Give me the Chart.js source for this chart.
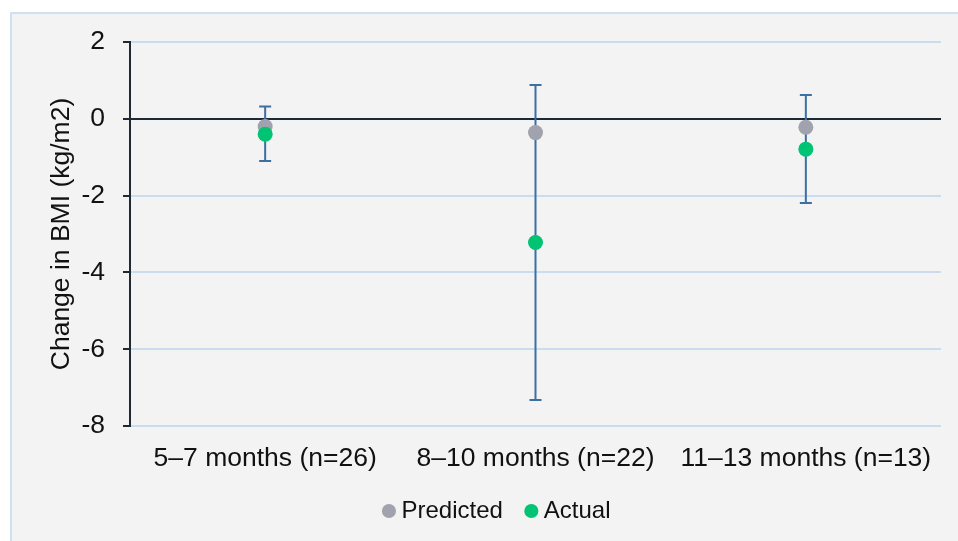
<!DOCTYPE html>
<html>
<head>
<meta charset="utf-8">
<script src="https://cdn.jsdelivr.net/npm/chart.js@4/dist/chart.umd.min.js"></script>
<style>
  html, body { margin: 0; padding: 0; background: #ffffff; overflow: hidden; }
  #panel {
    position: absolute; left: 10px; top: 12px; width: 1000px; height: 600px;
    background: #f3f3f3; border-top: 2px solid #cfe0f1; border-left: 2px solid #cfe0f1;
  }
  #wrap { position: absolute; left: 0; top: 0; width: 958px; height: 541px; }
</style>
</head>
<body>
<div id="panel"></div>
<div id="wrap"><canvas id="c" width="958" height="541"></canvas></div>
<script>
// Follow-up windows and BMI change (kg/m2)
const categories = ['5–7 months (n=26)', '8–10 months (n=22)', '11–13 months (n=13)'];
const predicted = [-0.2, -0.36, -0.22];
const actual = [-0.4, -3.22, -0.79];
// Interval bounds around the actual change
const actualLow = [-1.1, -7.32, -2.19];
const actualHigh = [0.32, 0.88, 0.62];
const yTicks = [-8, -6, -4, -2, 0, 2];

const FONT = '"Liberation Sans", Arial, sans-serif';
const AXIS_FONT = { family: FONT, size: 26.5 };
const GRID = '#cbdcee';
const DARK = '#1d2935';

// Vertical interval bars with end caps, drawn beneath the points
const intervalBars = {
  id: 'intervalBars',
  beforeDatasetsDraw(chart) {
    const { ctx, scales: { x, y } } = chart;
    ctx.save();
    ctx.strokeStyle = '#3d6fa3';
    ctx.lineWidth = 2;
    const cap = 6;
    categories.forEach((c, i) => {
      const px = x.getPixelForValue(i);
      const top = y.getPixelForValue(actualHigh[i]);
      const bot = y.getPixelForValue(actualLow[i]);
      ctx.beginPath();
      ctx.moveTo(px, top); ctx.lineTo(px, bot);
      ctx.moveTo(px - cap, top); ctx.lineTo(px + cap, top);
      ctx.moveTo(px - cap, bot); ctx.lineTo(px + cap, bot);
      ctx.stroke();
    });
    ctx.restore();
  }
};

new Chart(document.getElementById('c'), {
  type: 'line',
  data: {
    labels: categories,
    datasets: [
      { label: 'Predicted', data: predicted, order: 2,
        backgroundColor: '#a0a3ad', borderColor: '#a0a3ad' },
      { label: 'Actual', data: actual, order: 1,
        backgroundColor: '#00c373', borderColor: '#00c373' }
    ]
  },
  options: {
    responsive: false,
    animation: false,
    showLine: false,
    layout: { padding: { left: 58, right: 17, top: 42, bottom: 8 } },
    elements: { point: { radius: 7.5, borderWidth: 0, hoverRadius: 7.5 } },
    scales: {
      x: {
        type: 'category',
        offset: true,
        grid: { display: false, drawTicks: false },
        border: { display: false },
        ticks: { color: '#111', font: AXIS_FONT, padding: 17, maxRotation: 0 },
        afterFit(s) { s.height = 45; }
      },
      y: {
        min: -8, max: 2,
        afterBuildTicks(s) { s.ticks = yTicks.map(v => ({ value: v })); },
        grid: {
          color: ctx => (ctx.tick && ctx.tick.value === 0 ? DARK : GRID),
          lineWidth: 2,
          tickColor: DARK,
          tickLength: 7,
          drawTicks: true
        },
        border: { display: true, color: DARK, width: 2 },
        ticks: { color: '#111', font: AXIS_FONT, padding: 18 },
        title: {
          display: true, text: 'Change in BMI (kg/m2)', color: '#111',
          font: AXIS_FONT, padding: { top: -12, bottom: 0 }
        },
        afterFit(s) { s.width = 72; }
      }
    },
    plugins: {
      tooltip: { enabled: false },
      legend: {
        position: 'bottom',
        labels: {
          usePointStyle: true, pointStyle: 'circle',
          boxWidth: 1, boxHeight: 10, padding: 28,
          color: '#111', font: { family: FONT, size: 24 },
          sort: (a, b) => a.datasetIndex - b.datasetIndex
        }
      }
    }
  },
  plugins: [intervalBars]
});
</script>
</body>
</html>
